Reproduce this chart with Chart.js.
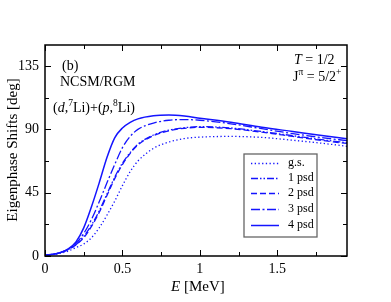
<!DOCTYPE html>
<html>
<head>
<meta charset="utf-8">
<script src="https://cdn.jsdelivr.net/npm/chart.js@4.4.1/dist/chart.umd.min.js"></script>
<style>
  html, body { margin: 0; padding: 0; background: #fff; }
  #wrap { width: 391px; height: 302px; position: relative; }
</style>
</head>
<body>
<div id="wrap"><canvas id="phaseChart"></canvas></div>
<script>
// Energy grid [MeV]
const energies = [0, 0.05, 0.1, 0.15, 0.2, 0.25, 0.3, 0.35, 0.4, 0.45, 0.5, 0.55, 0.6, 0.7, 0.8, 0.9, 1.0, 1.2, 1.4, 1.6, 1.8, 1.95];

// Eigenphase shifts [deg]
const gsShifts   = [0.5, 1.0, 2.0, 3.5, 6, 8.5, 13, 20, 29, 39, 50, 60, 67.5, 76.5, 81, 83.5, 84.5, 85, 84.3, 82.3, 80, 78];
const psd1Shifts = [0.5, 1.2, 2.4, 4.6, 8, 14, 22, 32, 44, 56, 66, 73.5, 79.5, 86, 89.5, 91.2, 92, 91, 88.5, 85.5, 82.5, 80.5];
const psd2Shifts = [0.5, 1.2, 2.4, 4.6, 8, 13, 21, 31, 43, 55, 65, 73, 79, 85.5, 89, 90.8, 91.5, 90.5, 88, 85, 82, 80];
const psd3Shifts = [0.5, 1.2, 2.5, 4.8, 9, 16, 26, 38.5, 52, 65, 77, 85, 90, 94.5, 96.5, 97, 96.5, 94, 90.5, 87, 84, 82];
const psd4Shifts = [0.5, 1.2, 2.5, 5, 10, 20, 35, 52, 70, 84, 91, 95, 97.5, 99.7, 100.2, 99.5, 98, 95, 91.5, 88.5, 85.5, 83.3];

const seriesLabels = ['g.s.', '1 psd', '2 psd', '3 psd', '4 psd'];

// Tick values
const xTicks = [0, 0.25, 0.5, 0.75, 1, 1.25, 1.5, 1.75];
const xLabels = [0, 0.5, 1, 1.5];
const yTicks = [0, 22.5, 45, 67.5, 90, 112.5, 135];
const yLabels = [0, 45, 90, 135];

const blue = 'rgb(20,20,255)';
const serif = '"Liberation Serif", "Times New Roman", serif';

function toPoints(ys) {
    return energies.map((e, i) => ({ x: e, y: ys[i] }));
}

const lineStyles = [
    { dash: [1.3, 2.4], width: 1.3 },
    { dash: [7, 2, 1.5, 2, 1.5, 2], width: 1.3 },
    { dash: [6, 3], width: 1.3 },
    { dash: [9, 2.5, 2, 2.5], width: 1.3 },
    { dash: [], width: 1.5 }
];

const allSeries = [gsShifts, psd1Shifts, psd2Shifts, psd3Shifts, psd4Shifts];

// draw text made of pieces: [text, italic?, superscript?]
function drawRich(ctx, x, y, parts, size) {
    let cx = x;
    parts.forEach(p => {
        const sup = p[2];
        const fs = sup ? size * 0.68 : size;
        ctx.font = (p[1] ? 'italic ' : '') + fs + 'px ' + serif;
        ctx.fillText(p[0], cx, sup ? y - size * 0.42 : y);
        cx += ctx.measureText(p[0]).width;
    });
    return cx;
}

const framePlugin = {
    id: 'frame',
    afterDraw(chart) {
        const ctx = chart.ctx;
        const a = chart.chartArea;
        const xs = chart.scales.x, ys = chart.scales.y;
        ctx.save();
        ctx.strokeStyle = '#000';
        ctx.lineWidth = 1;
        // inward ticks
        ctx.beginPath();
        xTicks.forEach(v => {
            const px = Math.round(xs.getPixelForValue(v)) + 0.5;
            const len = xLabels.includes(v) ? 6 : 4;
            ctx.moveTo(px, a.bottom); ctx.lineTo(px, a.bottom - len);
            ctx.moveTo(px, a.top); ctx.lineTo(px, a.top + len);
        });
        yTicks.forEach(v => {
            const py = Math.round(ys.getPixelForValue(v)) + 0.5;
            const len = yLabels.includes(v) ? 6 : 4;
            ctx.moveTo(a.left, py); ctx.lineTo(a.left + len, py);
            ctx.moveTo(a.right, py); ctx.lineTo(a.right - len, py);
        });
        ctx.stroke();
        // frame
        ctx.lineWidth = 1.5;
        ctx.strokeRect(a.left, a.top, a.right - a.left, a.bottom - a.top);

        // axis titles
        ctx.fillStyle = '#000';
        ctx.textBaseline = 'middle';
        ctx.textAlign = 'left';
        drawRich(ctx, 171, 287, [['E', true], [' [MeV]', false]], 15);
        ctx.save();
        ctx.translate(13, 150);
        ctx.rotate(-Math.PI / 2);
        ctx.textAlign = 'center';
        ctx.font = '15px ' + serif;
        ctx.fillText('Eigenphase Shifts [deg]', 0, 0);
        ctx.restore();

        // annotations
        ctx.textAlign = 'left';
        ctx.textBaseline = 'alphabetic';
        drawRich(ctx, 62, 70, [['(b)', false]], 14);
        drawRich(ctx, 60, 86, [['NCSM/RGM', false]], 14);
        drawRich(ctx, 53, 112, [['(', false], ['d', true], [',', false], ['7', false, true], ['Li)+(', false],
            ['p', true], [',', false], ['8', false, true], ['Li)', false]], 14);
        drawRich(ctx, 294, 64, [['T', true], [' = 1/2', false]], 14);
        drawRich(ctx, 293, 81, [['J', false], ['\u03c0', false, true], [' = 5/2', false], ['+', false, true]], 14);

        // legend box
        const lx = 244, ly = 154, lw = 73, lh = 83;
        ctx.fillStyle = '#fff';
        ctx.fillRect(lx, ly, lw, lh);
        ctx.strokeStyle = '#666';
        ctx.lineWidth = 1.3;
        ctx.strokeRect(lx, ly, lw, lh);
        const rows = [163, 178, 193, 209, 225];
        seriesLabels.forEach((lab, i) => {
            ctx.strokeStyle = blue;
            ctx.lineWidth = lineStyles[i].width;
            ctx.setLineDash(lineStyles[i].dash);
            ctx.beginPath();
            ctx.moveTo(251, rows[i] + 0.5);
            ctx.lineTo(279, rows[i] + 0.5);
            ctx.stroke();
            ctx.setLineDash([]);
            ctx.fillStyle = '#000';
            ctx.textBaseline = 'middle';
            ctx.font = '12px ' + serif;
            ctx.fillText(lab, 288, rows[i]);
        });
        ctx.restore();
    }
};

const ctx = document.getElementById('phaseChart').getContext('2d');
new Chart(ctx, {
    type: 'line',
    data: {
        datasets: allSeries.map((ys, i) => ({
            label: seriesLabels[i],
            data: toPoints(ys),
            borderColor: blue,
            borderWidth: lineStyles[i].width,
            borderDash: lineStyles[i].dash,
            pointRadius: 0,
            fill: false,
            cubicInterpolationMode: 'monotone'
        }))
    },
    options: {
        responsive: true,
        maintainAspectRatio: false,
        animation: false,
        layout: { padding: { left: 0, top: 45, right: 44, bottom: 0 } },
        plugins: {
            legend: { display: false },
            tooltip: { enabled: false }
        },
        scales: {
            x: {
                type: 'linear',
                min: 0,
                max: 1.95,
                grid: { display: false, drawTicks: false },
                border: { display: false },
                afterBuildTicks: s => { s.ticks = xTicks.map(v => ({ value: v })); },
                afterFit: s => { s.height = 46; },
                ticks: {
                    padding: 5,
                    color: '#000',
                    font: { family: serif, size: 14 },
                    maxRotation: 0,
                    autoSkip: false,
                    callback: v => xLabels.includes(v) ? String(v) : ''
                }
            },
            y: {
                min: 0,
                max: 150,
                grid: { display: false, drawTicks: false },
                border: { display: false },
                afterBuildTicks: s => { s.ticks = yTicks.map(v => ({ value: v })); },
                afterFit: s => { s.width = 45; },
                ticks: {
                    padding: 6,
                    color: '#000',
                    font: { family: serif, size: 14 },
                    autoSkip: false,
                    callback: v => yLabels.includes(v) ? String(v) : ''
                }
            }
        }
    },
    plugins: [framePlugin]
});
</script>
</body>
</html>
